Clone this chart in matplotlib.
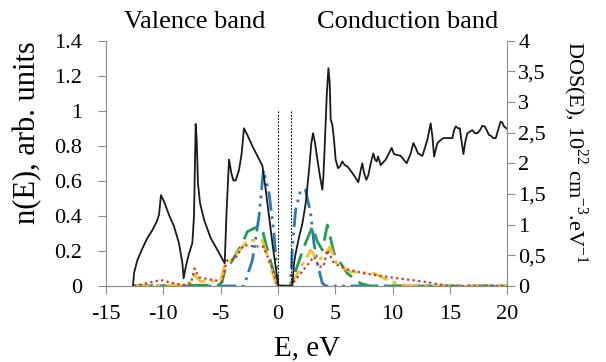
import numpy as np
import matplotlib
matplotlib.use('Agg')
import matplotlib.pyplot as plt
from matplotlib.ticker import FuncFormatter

plt.rcParams['font.family'] = 'Liberation Serif'
plt.rcParams['mathtext.fontset'] = 'custom'
plt.rcParams['mathtext.rm'] = 'Liberation Serif'
plt.rcParams['axes.unicode_minus'] = False

# total DOS (right axis, 10^22 cm^-3 eV^-1)
dos_e = [-12.65, -12.56, -12.27, -11.83, -11.40, -10.96, -10.58, -10.38, -10.21, -9.95, -9.51,
         -9.07, -8.64, -8.34, -8.23, -8.05, -7.76, -7.47, -7.33, -7.24, -7.18, -7.09, -6.98,
         -6.80, -6.45, -5.87, -5.29, -4.65, -4.48, -4.27, -4.07, -3.89, -3.69, -3.40, -3.17,
         -2.97, -2.67, -2.21, -1.77, -1.36, -1.07, -0.78, -0.49, -0.20, 0.03,
         1.13, 1.25, 1.40, 1.54, 1.84, 2.13, 2.42, 2.71, 2.91, 3.06, 3.23, 3.44, 3.67, 3.87,
         3.96, 4.10, 4.25, 4.40, 4.51, 4.60, 4.74, 4.89, 5.03, 5.24, 5.41, 5.62, 5.82, 6.05,
         6.49, 6.78, 7.01, 7.22, 7.36, 7.51, 7.71, 7.89, 8.09, 8.32, 8.47, 8.61, 8.73, 8.96,
         9.40, 9.92, 10.12, 10.27, 10.71, 11.23, 11.58, 11.81, 12.02, 12.22, 12.60, 13.03,
         13.32, 13.47, 13.62, 13.76, 13.91, 14.20, 14.43, 15.22, 15.36, 15.51, 15.71, 15.86,
         16.00, 16.18, 16.32, 16.52, 16.96, 17.19, 17.40, 17.63, 17.83, 18.04, 18.21, 18.41,
         18.56, 18.79, 19.00, 19.20, 19.43, 19.58, 19.72, 20.0]
dos_v = [0.0, 0.21, 0.42, 0.61, 0.78, 0.91, 1.05, 1.16, 1.48, 1.38, 1.16,
         0.97, 0.70, 0.37, 0.125, 0.31, 0.53, 0.70, 1.13, 2.0, 2.64, 2.38, 1.67,
         1.35, 1.08, 0.78, 0.59, 0.37, 1.24, 2.06, 1.84, 1.72, 1.72, 1.89, 2.16,
         2.57, 2.46, 2.27, 2.11, 1.96, 1.57, 1.13, 0.70, 0.31, 0.0,
         0.0, 0.0, 0.37, 0.53, 0.80, 1.02, 1.35, 1.89, 2.33, 2.49, 2.33, 2.06, 1.78, 1.57,
         1.78, 2.38, 3.09, 3.55, 3.31, 2.71, 2.63, 2.38, 2.06, 1.92, 1.95, 2.03, 1.97, 1.95,
         1.84, 1.76, 1.69, 1.89, 2.0, 1.84, 1.73, 1.81, 2.0, 2.16, 2.06, 2.03, 2.11, 1.97,
         2.06, 2.25, 2.15, 2.14, 2.12, 2.0, 2.16, 2.33, 2.25, 2.16, 2.12, 2.38,
         2.65, 2.44, 2.11, 2.22, 2.33, 2.38, 2.41, 2.41, 2.54, 2.60, 2.57, 2.57,
         2.38, 2.15, 2.33, 2.49, 2.54, 2.49, 2.49, 2.54, 2.61, 2.60, 2.54, 2.46,
         2.45, 2.41, 2.41, 2.54, 2.68, 2.66, 2.60, 2.56]

# partial n(E) curves (left axis)
red_e = [-12.56, -11.5, -10.24, -9.37, -8.3, -7.6, -7.27, -6.9, -6.0, -4.85, -4.56, -4.42, -3.84,
         -2.97, -2.38, -1.27, -0.6, -0.05, 1.1, 1.98, 3.14, 3.58, 3.96, 4.31, 4.89, 5.18,
         6.05, 7.5, 10.4, 12.7, 14.9, 20.0]
red_v = [0.0, 0.015, 0.034, 0.02, 0.005, 0.015, 0.1, 0.05, 0.038, 0.025, 0.12, 0.148, 0.148,
         0.234, 0.228, 0.224, 0.12, 0.0, 0.0, 0.072, 0.167, 0.11, 0.11, 0.205, 0.13, 0.12,
         0.095, 0.072, 0.044, 0.025, 0.0, 0.0]

yel_e = [-12.6, -8.3, -7.6, -7.3, -6.75, -5.0, -4.6, -4.0, -2.67, -2.09, -1.36, -0.7, -0.1,
         1.1, 1.55, 2.85, 3.43, 4.0, 4.54, 5.18, 6.34, 8.38, 9.83, 11.3, 20.0]
yel_v = [0.0, 0.005, 0.02, 0.065, 0.025, 0.03, 0.13, 0.15, 0.26, 0.26, 0.26, 0.12, 0.0,
         0.0, 0.053, 0.205, 0.148, 0.167, 0.224, 0.12, 0.08, 0.072, 0.025, 0.0, 0.0]

grn_e = [-12.6, -5.2, -4.9, -4.56, -4.13, -3.1, -2.67, -1.8, -1.36, -0.92, -0.35, 0.0,
         1.1, 1.26, 2.27, 3.0, 3.44, 3.87, 4.31, 4.89, 6.05, 7.2, 8.0, 20.0]
grn_v = [0.0, 0.005, 0.02, 0.11, 0.13, 0.244, 0.31, 0.338, 0.32, 0.205, 0.072, 0.0,
         0.0, 0.034, 0.224, 0.338, 0.253, 0.205, 0.348, 0.187, 0.072, 0.015, 0.0, 0.0]

blu_e = [-12.6, -2.97, -2.23, -1.65, -1.27, -0.78, -0.35, 0.0,
         1.1, 1.26, 1.54, 1.98, 2.4, 2.85, 3.14, 3.43, 3.87, 4.2, 20.0]
blu_v = [0.0, 0.0, 0.148, 0.40, 0.66, 0.53, 0.30, 0.0,
         0.0, 0.224, 0.434, 0.548, 0.548, 0.415, 0.244, 0.13, 0.015, 0.0, 0.0]

gap = [0.0, 1.12]

fig = plt.figure(figsize=(6.06, 3.62), dpi=100)
ax = fig.add_axes([0.175, 0.21, 0.662, 0.678])
ax2 = ax.twinx()

ax.plot(blu_e, blu_v, color='#2a7ab8', lw=2, dashes=(7, 2, 1, 2, 1, 2))
ax.plot(grn_e, grn_v, color='#1f9e55', lw=2, dashes=(7, 3))
ax.plot(yel_e, yel_v, color='#f2c12e', lw=2, dashes=(6, 2, 1.5, 2))
ax.plot(red_e, red_v, color='#c0392b', lw=1.6, linestyle=(0, (1, 1.5)))
for g in gap:
    ax.plot([g, g], [0, 1.0], color='black', lw=0.8, linestyle=(0, (1.5, 1.5)))

ax2.plot(dos_e, dos_v, color='#1a1a1a', lw=1.3, solid_joinstyle='round')

ax.set_xlim(-15, 20)
ax.set_ylim(0, 1.4)
ax2.set_ylim(0, 4)
ax.set_xticks([-15, -10, -5, 0, 5, 10, 15, 20])
ax.set_yticks([0, 0.2, 0.4, 0.6, 0.8, 1.0, 1.2, 1.4])
ax.yaxis.set_major_formatter(FuncFormatter(lambda v, p: '%g' % v))
ax2.set_yticks(np.arange(0, 4.01, 0.5))
ax2.yaxis.set_major_formatter(FuncFormatter(lambda v, p: ('%g' % v).replace('.', ',')))

for a in (ax, ax2):
    a.spines['top'].set_visible(False)
    for s in a.spines.values():
        s.set_color('#8c8c8c')
    a.tick_params(colors='#8c8c8c', labelcolor='black', labelsize=16, length=6, width=0.8)
ax2.spines['left'].set_visible(False)
ax.spines['right'].set_visible(False)
ax.tick_params(axis='x', pad=8)
ax.tick_params(axis='y', pad=11)
ax2.tick_params(axis='y', pad=2)

ax.set_xlabel('E, eV', fontsize=21)
ax.xaxis.set_label_coords(0.5, -0.2)
ax.set_ylabel('n(E), arb. units', fontsize=22)
ax.yaxis.set_label_coords(-0.158, 0.625)
ax2.set_ylabel(r'DOS(E), 10$^{22}$ cm$^{-3}$.eV$^{-1}$', fontsize=16, rotation=270, va='bottom')
ax2.yaxis.set_label_coords(1.135, 0.545)

fig.text(0.322, 0.938, 'Valence band', fontsize=19, ha='center', va='center')
fig.text(0.673, 0.938, 'Conduction band', fontsize=19, ha='center', va='center')

plt.savefig('out.png', dpi=100)
